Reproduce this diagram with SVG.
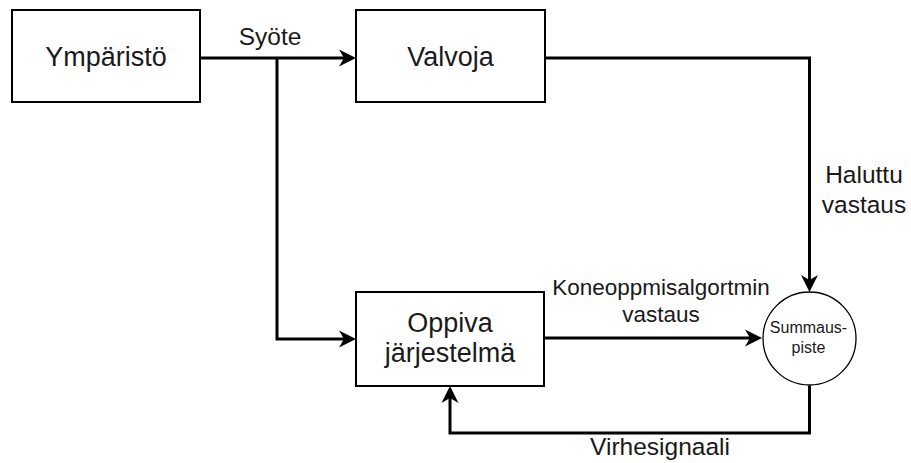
<svg xmlns="http://www.w3.org/2000/svg" width="911" height="463" viewBox="0 0 911 463">
  <style>
    .box { fill: #ffffff; stroke: #000000; stroke-width: 2; }
    .sum { fill: #ffffff; stroke: #000000; stroke-width: 1.3; }
    .wire { fill: none; stroke: #000000; stroke-width: 3; }
    text { font-family: "Liberation Sans", Arial, Helvetica, sans-serif; fill: #1a1a1a; text-anchor: middle; }
    .node-label { font-size: 27px; }
    .edge-label { font-size: 24.5px; }
    .edge-small { font-size: 22.5px; }
    .sum-label { font-size: 16px; }
  </style>
  <defs>
    <marker id="arrow" viewBox="0 -9 18 18" refX="5" refY="0" markerWidth="18" markerHeight="18" markerUnits="userSpaceOnUse" orient="auto">
      <path d="M17,0 L0,-8.5 L5,0 L0,8.5 Z" fill="#000000"/>
    </marker>
  </defs>

  <!-- connectors -->
  <g id="connectors">
    <path class="wire" d="M200,58 H344" marker-end="url(#arrow)"/>
    <path class="wire" d="M277,58 V339 H344" marker-end="url(#arrow)"/>
    <path class="wire" d="M545,58 H809.5 V280" marker-end="url(#arrow)"/>
    <path class="wire" d="M544,338 H750" marker-end="url(#arrow)"/>
    <path class="wire" d="M809.5,385.5 V433 H450 V398" marker-end="url(#arrow)"/>
    <text class="edge-label" x="270" y="45">Syöte</text>
    <text class="edge-label" x="864" y="183">Haluttu</text>
    <text class="edge-label" x="864" y="213">vastaus</text>
    <text class="edge-small" x="661" y="295">Koneoppmisalgortmin</text>
    <text class="edge-small" x="661" y="322">vastaus</text>
    <text class="edge-label" x="660" y="455">Virhesignaali</text>
  </g>

  <!-- nodes -->
  <g id="ymparisto">
    <rect class="box" x="12" y="10" width="188" height="92"/>
    <text class="node-label" x="106" y="66">Ympäristö</text>
  </g>
  <g id="valvoja">
    <rect class="box" x="356" y="10" width="189" height="92"/>
    <text class="node-label" x="450.5" y="66">Valvoja</text>
  </g>
  <g id="oppiva">
    <rect class="box" x="356" y="292" width="188" height="94"/>
    <text class="node-label" x="450" y="331.5">Oppiva</text>
    <text class="node-label" x="450" y="362">järjestelmä</text>
  </g>
  <g id="summauspiste">
    <circle class="sum" cx="809.5" cy="338.5" r="46.5"/>
    <text class="sum-label" x="808.5" y="333">Summaus-</text>
    <text class="sum-label" x="808.5" y="353">piste</text>
  </g>
</svg>
